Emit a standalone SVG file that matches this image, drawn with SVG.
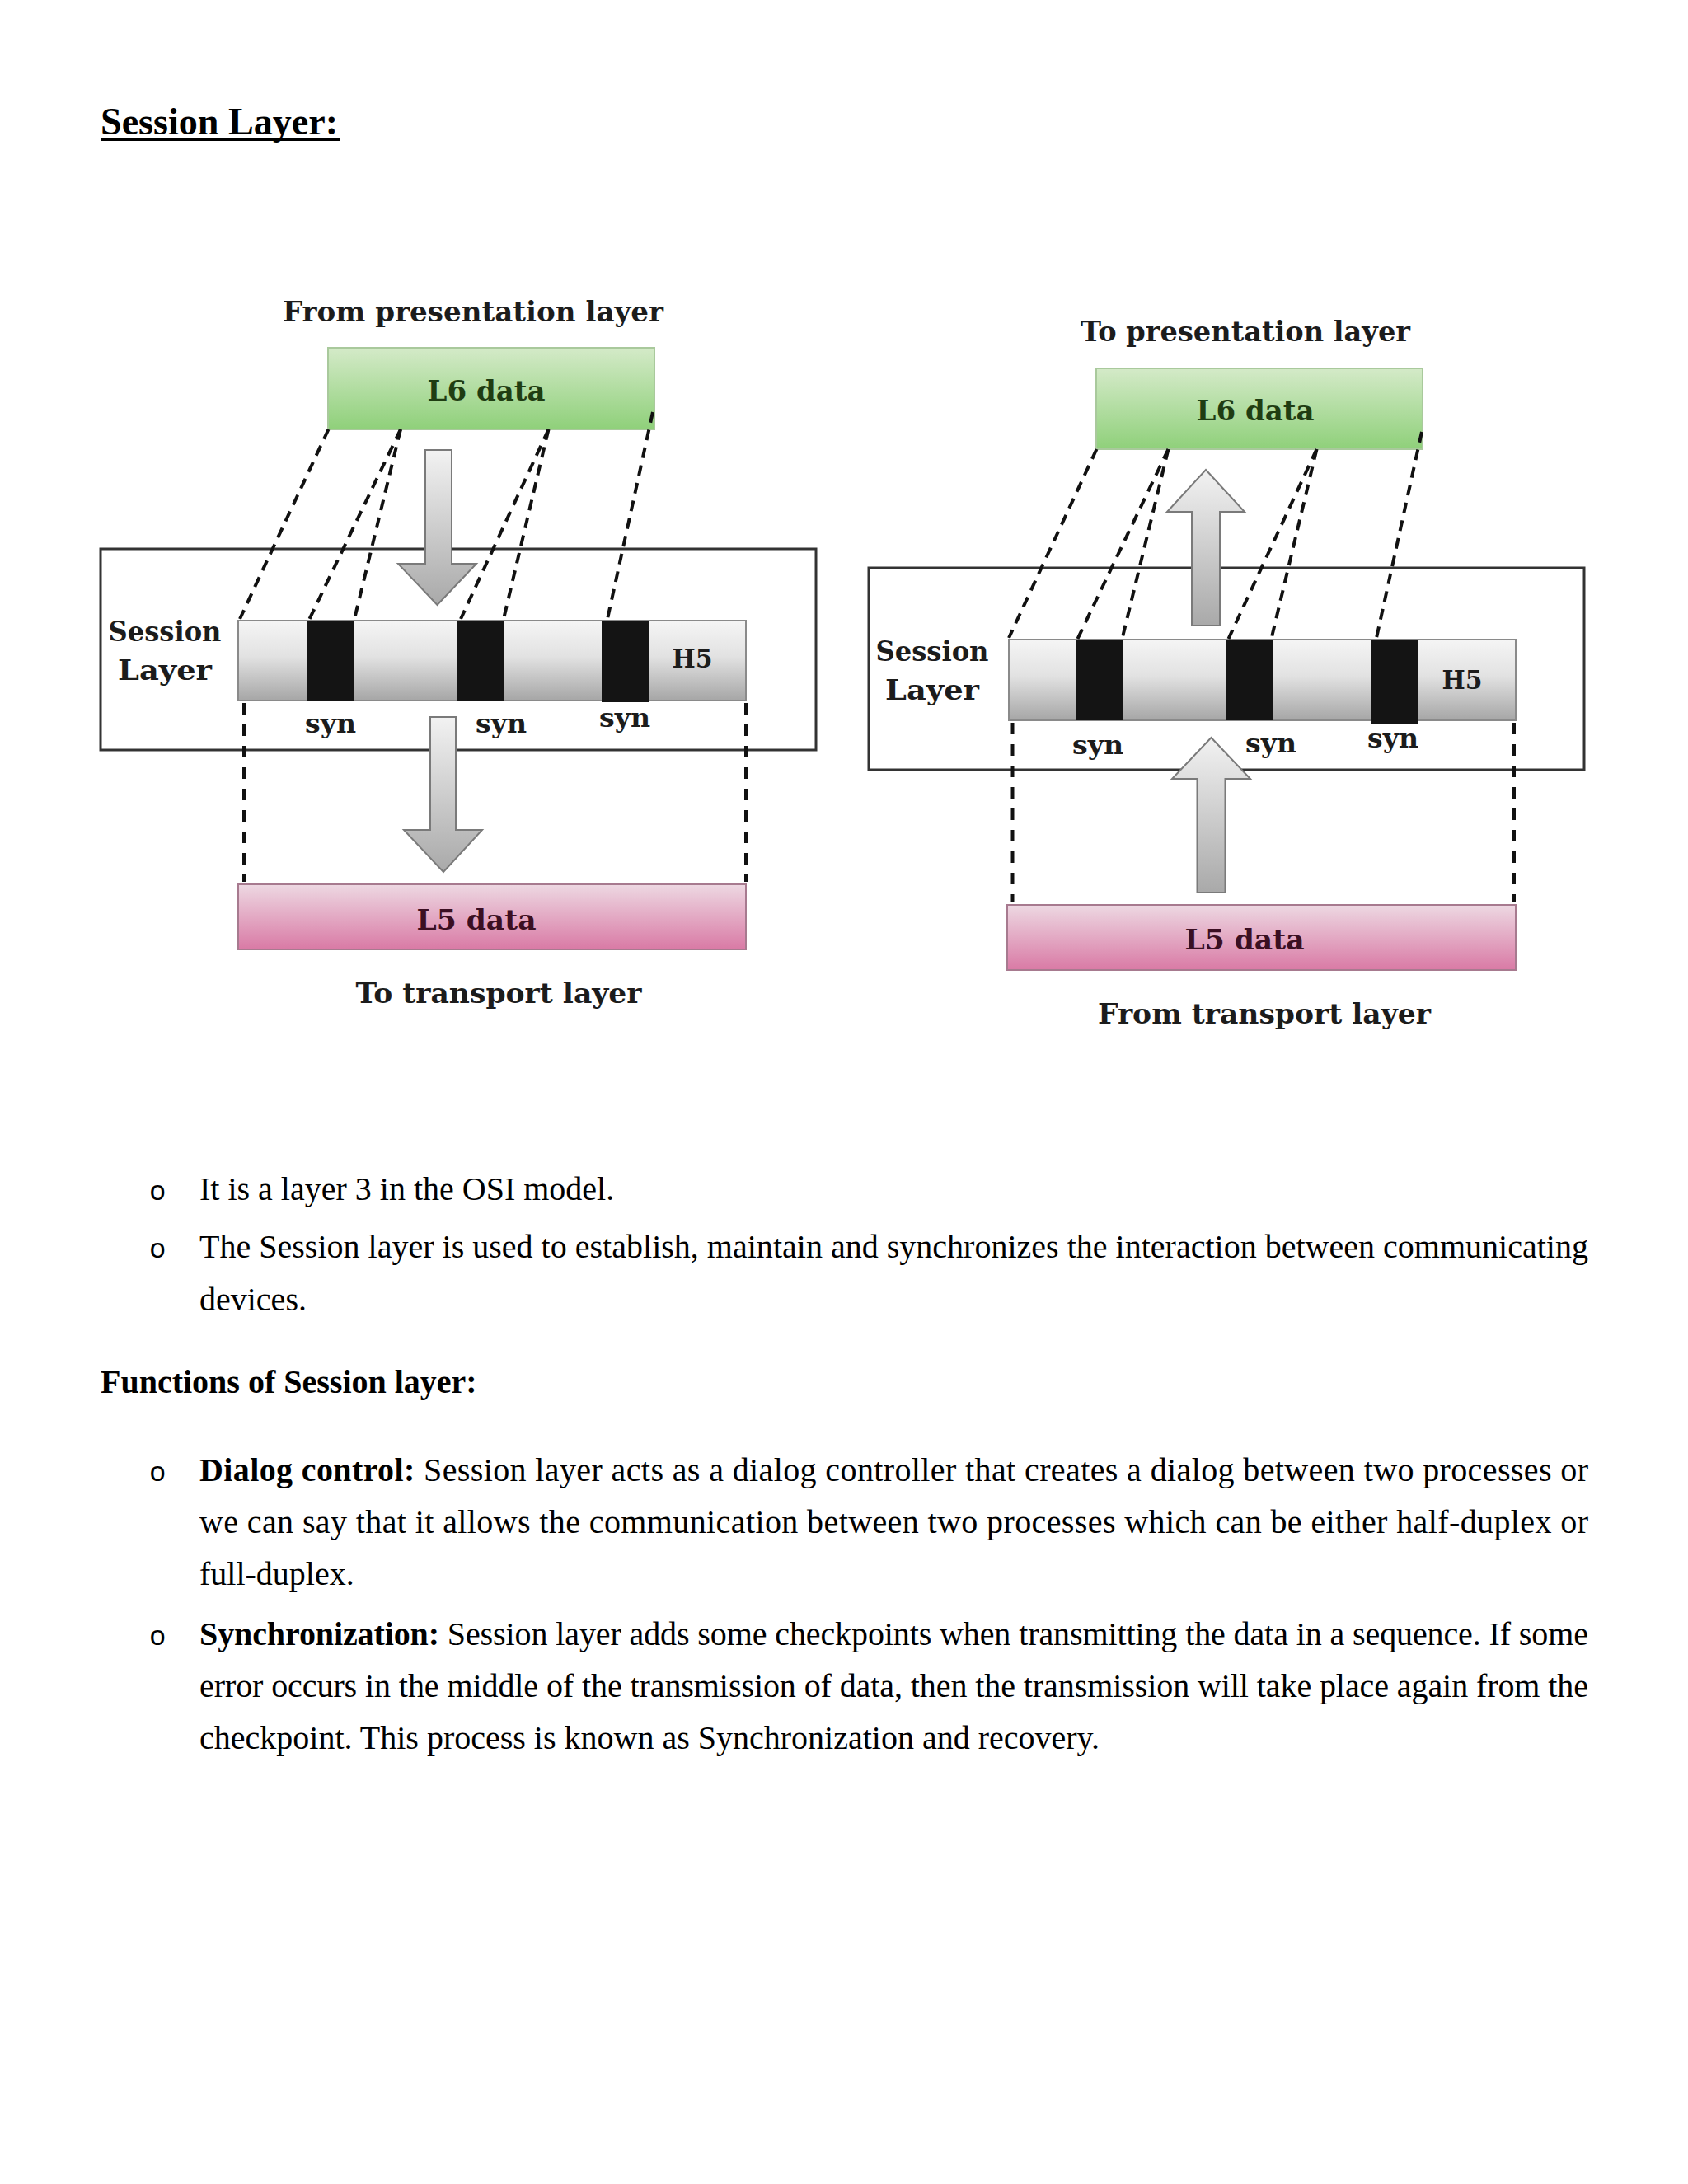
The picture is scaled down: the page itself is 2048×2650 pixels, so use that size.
<svg xmlns="http://www.w3.org/2000/svg" width="2048" height="2650" viewBox="0 0 2048 2650">
<defs>
<linearGradient id="gGreen" x1="0" y1="0" x2="0" y2="1"><stop offset="0" stop-color="#d4eac8"/><stop offset="1" stop-color="#8fd07a"/></linearGradient>
<linearGradient id="gPink" x1="0" y1="0" x2="0" y2="1"><stop offset="0" stop-color="#edd8e2"/><stop offset="1" stop-color="#d97aa5"/></linearGradient>
<linearGradient id="gBar" x1="0" y1="0" x2="0" y2="1"><stop offset="0" stop-color="#f5f5f5"/><stop offset="0.45" stop-color="#e2e2e2"/><stop offset="1" stop-color="#a6a6a6"/></linearGradient>
<linearGradient id="gArrow" x1="0" y1="0" x2="0" y2="1"><stop offset="0" stop-color="#f2f2f2"/><stop offset="1" stop-color="#a9a9a9"/></linearGradient>
<style>
.dl{font-family:"DejaVu Serif","Liberation Serif",serif;font-weight:bold;fill:#1c1c1c;text-anchor:middle}
.body{font-family:"Liberation Serif","Times New Roman",serif;font-size:40px;fill:#000}
.b{font-weight:bold}
.bul{font-family:"Liberation Mono","Courier New",monospace;font-size:34px;fill:#000}
.outer{fill:none;stroke:#333;stroke-width:3}
.bar{fill:url(#gBar);stroke:#8a8a8a;stroke-width:2}
.blk{fill:#141414}
.green{fill:url(#gGreen);stroke:#a9c99c;stroke-width:2}
.pink{fill:url(#gPink);stroke:#a77a8f;stroke-width:2}
.dash{stroke:#111;stroke-width:4;stroke-dasharray:13 9;fill:none}
.vdash{stroke:#111;stroke-width:4;stroke-dasharray:14 12;fill:none}
.arrow{fill:url(#gArrow);stroke:#7a7a7a;stroke-width:2;stroke-linejoin:miter}
</style>
</defs>
<rect width="2048" height="2650" fill="#ffffff"/>

<g id="title">
<text x="122" y="163" font-family="'Liberation Serif','Times New Roman',serif" font-size="46" font-weight="bold" textLength="288" lengthAdjust="spacingAndGlyphs">Session Layer:</text>
<rect x="122" y="168" width="291" height="3" fill="#000"/>
</g>

<!-- LEFT DIAGRAM -->
<g id="left-diagram">
<g id="left-from-label"><text class="dl" x="574" y="390" font-size="33" textLength="462" lengthAdjust="spacingAndGlyphs">From presentation layer</text></g>
<g id="left-session-box"><rect class="outer" x="122" y="666" width="868" height="244"/>
<text class="dl" x="200" y="778" font-size="34" textLength="137" lengthAdjust="spacingAndGlyphs">Session</text>
<text class="dl" x="200" y="825" font-size="34" textLength="114" lengthAdjust="spacingAndGlyphs">Layer</text></g>
<g id="left-l6"><rect class="green" x="398" y="422" width="396" height="99"/>
<text class="dl" x="590" y="486" font-size="34" fill="#1f3d12" style="fill:#1f3d12" textLength="143" lengthAdjust="spacingAndGlyphs">L6 data</text></g>
<g id="left-bar"><rect class="bar" x="289" y="753" width="616" height="97"/>
<rect class="blk" x="373" y="753" width="57" height="97"/>
<rect class="blk" x="555" y="753" width="56" height="97"/>
<rect class="blk" x="730" y="753" width="57" height="99"/>
<text class="dl" x="840" y="810" font-size="32" textLength="49" lengthAdjust="spacingAndGlyphs">H5</text>
<text class="dl" x="401" y="889" font-size="32" textLength="62" lengthAdjust="spacingAndGlyphs">syn</text>
<text class="dl" x="608" y="889" font-size="32" textLength="62" lengthAdjust="spacingAndGlyphs">syn</text>
<text class="dl" x="758" y="882" font-size="32" textLength="62" lengthAdjust="spacingAndGlyphs">syn</text></g>
<g id="left-l5"><rect class="pink" x="289" y="1073" width="616" height="79"/>
<text class="dl" x="578" y="1128" font-size="34" style="fill:#3b0f22" textLength="145" lengthAdjust="spacingAndGlyphs">L5 data</text></g>
<g id="left-to-label"><text class="dl" x="605" y="1217" font-size="33" textLength="347" lengthAdjust="spacingAndGlyphs">To transport layer</text></g>
<g id="left-connectors">
<line class="dash" x1="398.5" y1="521" x2="291" y2="751"/>
<line class="dash" x1="486" y1="521" x2="375.5" y2="751"/>
<line class="dash" x1="486" y1="521" x2="430" y2="751"/>
<line class="dash" x1="665.5" y1="521" x2="559" y2="751"/>
<line class="dash" x1="665.5" y1="521" x2="611" y2="751"/>
<line class="dash" x1="792" y1="500" x2="737" y2="751"/>
<line class="vdash" x1="296" y1="853" x2="296" y2="1070"/>
<line class="vdash" x1="905" y1="853" x2="905" y2="1070"/>
<path class="arrow" d="M516 546 L548 546 L548 684 L578 684 L530.5 734 L483 684 L516 684 Z"/>
<path class="arrow" d="M522 870 L553 870 L553 1007 L585 1007 L538 1058 L490 1007 L522 1007 Z"/>
</g>
</g>

<!-- RIGHT DIAGRAM -->
<g id="right-diagram" transform="translate(933,24)">
<g id="right-to-label"><text class="dl" x="578" y="390" font-size="33" textLength="400" lengthAdjust="spacingAndGlyphs">To presentation layer</text></g>
<g id="right-session-box"><rect class="outer" x="121" y="665" width="868" height="245"/>
<text class="dl" x="198" y="778" font-size="34" textLength="137" lengthAdjust="spacingAndGlyphs">Session</text>
<text class="dl" x="198" y="825" font-size="34" textLength="114" lengthAdjust="spacingAndGlyphs">Layer</text></g>
<g id="right-l6"><rect class="green" x="397" y="423" width="396" height="98"/>
<text class="dl" x="590" y="486" font-size="34" style="fill:#1f3d12" textLength="143" lengthAdjust="spacingAndGlyphs">L6 data</text></g>
<g id="right-bar"><rect class="bar" x="291" y="752" width="615" height="98"/>
<rect class="blk" x="373" y="752" width="56" height="98"/>
<rect class="blk" x="555" y="752" width="56" height="98"/>
<rect class="blk" x="731" y="752" width="57" height="102"/>
<text class="dl" x="841" y="812" font-size="32" textLength="49" lengthAdjust="spacingAndGlyphs">H5</text>
<text class="dl" x="399" y="891" font-size="32" textLength="62" lengthAdjust="spacingAndGlyphs">syn</text>
<text class="dl" x="609" y="889" font-size="32" textLength="62" lengthAdjust="spacingAndGlyphs">syn</text>
<text class="dl" x="757" y="883" font-size="32" textLength="62" lengthAdjust="spacingAndGlyphs">syn</text></g>
<g id="right-l5"><rect class="pink" x="289" y="1074" width="617" height="79"/>
<text class="dl" x="577" y="1128" font-size="34" style="fill:#3b0f22" textLength="145" lengthAdjust="spacingAndGlyphs">L5 data</text></g>
<g id="right-from-label"><text class="dl" x="601" y="1218" font-size="33" textLength="404" lengthAdjust="spacingAndGlyphs">From transport layer</text></g>
<g id="right-connectors">
<line class="dash" x1="397.5" y1="521" x2="291" y2="750"/>
<line class="dash" x1="484.5" y1="521" x2="374.5" y2="751"/>
<line class="dash" x1="484.5" y1="521" x2="428.5" y2="751"/>
<line class="dash" x1="664.5" y1="521" x2="557.5" y2="751"/>
<line class="dash" x1="664.5" y1="521" x2="609.5" y2="751"/>
<line class="dash" x1="792" y1="500" x2="737" y2="750"/>
<line class="vdash" x1="295.5" y1="853" x2="295.5" y2="1070"/>
<line class="vdash" x1="904" y1="853" x2="904" y2="1070"/>
<path class="arrow" d="M530 546 L577 597 L547 597 L547 735 L513 735 L513 597 L483 597 Z"/>
<path class="arrow" d="M536.5 871 L584 921 L553.5 921 L553.5 1059 L519.5 1059 L519.5 921 L489 921 Z"/>
</g>
</g>

<!-- BODY TEXT -->
<g id="text-block">
<text class="bul" x="181" y="1456">o</text>
<text class="body" x="242" y="1456">It is a layer 3 in the OSI model.</text>
<text class="bul" x="181" y="1526">o</text>
<text class="body" x="242" y="1526" textLength="1685" lengthAdjust="spacing">The Session layer is used to establish, maintain and synchronizes the interaction between communicating</text>
<text class="body" x="242" y="1590">devices.</text>
<text class="body b" x="122" y="1690">Functions of Session layer:</text>
<text class="bul" x="181" y="1797">o</text>
<text class="body" x="242" y="1797" textLength="1685" lengthAdjust="spacing"><tspan class="b">Dialog control:</tspan> Session layer acts as a dialog controller that creates a dialog between two processes or</text>
<text class="body" x="242" y="1860" textLength="1685" lengthAdjust="spacing">we can say that it allows the communication between two processes which can be either half-duplex or</text>
<text class="body" x="242" y="1923">full-duplex.</text>
<text class="bul" x="181" y="1996">o</text>
<text class="body" x="242" y="1996" textLength="1685" lengthAdjust="spacing"><tspan class="b">Synchronization:</tspan> Session layer adds some checkpoints when transmitting the data in a sequence. If some</text>
<text class="body" x="242" y="2059" textLength="1685" lengthAdjust="spacing">error occurs in the middle of the transmission of data, then the transmission will take place again from the</text>
<text class="body" x="242" y="2122">checkpoint. This process is known as Synchronization and recovery.</text>
</g>
</svg>
